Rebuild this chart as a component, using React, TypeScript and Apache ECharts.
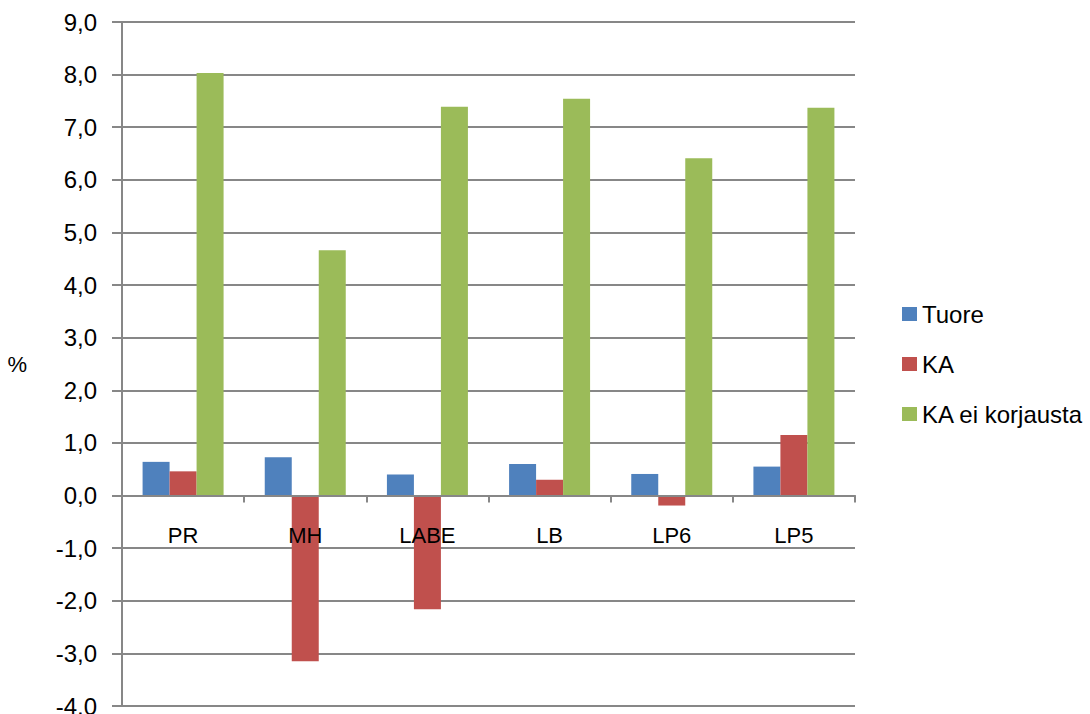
import React, { useEffect, useRef } from "react";
import * as echarts from "echarts";

const categories = ["PR", "MH", "LABE", "LB", "LP6", "LP5"];
const tuore = [0.64, 0.73, 0.4, 0.6, 0.41, 0.55];
const ka = [0.46, -3.15, -2.16, 0.3, -0.19, 1.15];
const kaEiKorjausta = [8.03, 4.66, 7.39, 7.54, 6.41, 7.37];
const seriesNames = ["Tuore", "KA", "KA ei korjausta"];
const colors = ["#4F81BD", "#C0504D", "#9BBB59"];
const yMin = -4;
const yMax = 9;

const FONT = "'Liberation Sans', Arial, sans-serif";
const GRID_COLOR = "#878787";
const GRID_TOP = 22;
const GRID_BOTTOM_Y = 706;
const ZERO_Y = GRID_TOP + ((GRID_BOTTOM_Y - GRID_TOP) * yMax) / (yMax - yMin);

export default function App() {
  const ref = useRef<HTMLDivElement>(null);
  useEffect(() => {
    if (!ref.current) return;
    const chart = echarts.init(ref.current, null, { renderer: "svg" });
    const data = [tuore, ka, kaEiKorjausta];
    chart.setOption({
      animation: false,
      backgroundColor: "#ffffff",
      textStyle: { fontFamily: FONT },
      grid: {
        left: 122,
        right: 235,
        top: GRID_TOP,
        bottom: 714 - GRID_BOTTOM_Y,
        containLabel: false,
        outerBoundsMode: "none",
      },
      legend: {
        orient: "vertical",
        left: 897,
        top: 297,
        itemWidth: 15,
        itemHeight: 14,
        itemGap: 26,
        icon: "rect",
        data: seriesNames,
        textStyle: { fontSize: 24, color: "#000", fontFamily: FONT },
      },
      xAxis: {
        type: "category",
        data: categories,
        z: 10,
        offset: -(GRID_BOTTOM_Y - ZERO_Y),
        axisLine: { onZero: false, lineStyle: { color: GRID_COLOR, width: 2 } },
        axisTick: { show: true, length: 7, lineStyle: { color: GRID_COLOR, width: 2 } },
        axisLabel: { color: "#000", fontSize: 22, margin: 29, fontFamily: FONT },
        splitLine: { show: false },
      },
      yAxis: {
        type: "value",
        min: yMin,
        max: yMax,
        interval: 1,
        name: "%",
        nameLocation: "middle",
        nameRotate: 0,
        nameGap: 95,
        nameTextStyle: { fontSize: 22, color: "#000", fontFamily: FONT },
        axisLine: { show: true, lineStyle: { color: GRID_COLOR, width: 2 } },
        axisTick: { show: true, length: 10, lineStyle: { color: GRID_COLOR, width: 2 } },
        axisLabel: {
          color: "#000",
          fontSize: 24,
          margin: 25,
          fontFamily: FONT,
          formatter: (v: number) => v.toFixed(1).replace(".", ","),
        },
        splitLine: { show: true, lineStyle: { color: GRID_COLOR, width: 2 } },
      },
      series: seriesNames.map((name, i) => ({
        name,
        type: "bar",
        data: data[i],
        barWidth: 27,
        barGap: "0%",
        itemStyle: { color: colors[i] },
      })),
    });
    return () => chart.dispose();
  }, []);
  return (
    <div
      ref={ref}
      style={{ position: "fixed", left: 0, top: 0, width: 1090, height: 714 }}
    />
  );
}
